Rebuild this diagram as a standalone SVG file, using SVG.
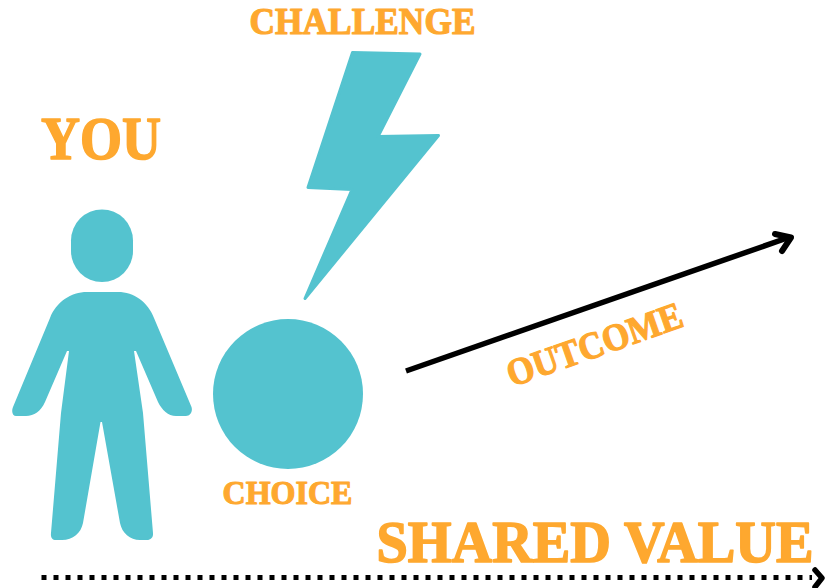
<svg xmlns="http://www.w3.org/2000/svg" width="825" height="588" viewBox="0 0 825 588">
<style>
.teal{fill:#54c3cf}
.label{font-family:"Liberation Serif",serif;font-weight:700;fill:#fea82f;stroke:#fea82f;stroke-linejoin:round}
.line{fill:none;stroke:#000;stroke-linecap:round;stroke-linejoin:round}
</style>
<rect width="825" height="588" fill="#fff"/>
<g id="you">
<rect class="teal" x="71" y="209.5" width="62" height="72.5" rx="31" ry="31"/>
<path class="teal" d="M87 292H118C134 292 148 302 154 318L191.500 407C193 412 190 416 186 416H176C168 416 162 410 158 402L136 351H134L143 413L153 533C153.500 537 151 540 147 540H140C130 540 122 533 120 523L102 422H100.500L83 523C81 533 73 540 62 540H56C52 540 50.500 537 51 533L61 413L69 351H67L45 402C41 411 34 416 26 416H16C13 416 11 412 13 407L50 318C56 302 71 292 87 292Z"/>
<text class="label" x="41" y="158.500" font-size="62" stroke-width="1.600" textLength="120" lengthAdjust="spacingAndGlyphs">YOU</text>
</g>
<g id="challenge">
<path class="teal" stroke="#54c3cf" stroke-width="3" stroke-linejoin="round" d="M352.500 52.500L420 54L378 136.500L438.500 135.500L305 298.500L352 189.500L308 187.500Z"/>
<text class="label" x="249.500" y="33.500" font-size="38" stroke-width="1.200" textLength="226" lengthAdjust="spacingAndGlyphs">CHALLENGE</text>
</g>
<g id="choice">
<circle class="teal" cx="288" cy="394" r="75"/>
<text class="label" x="222.500" y="504" font-size="33" stroke-width="1.100" textLength="130" lengthAdjust="spacingAndGlyphs">CHOICE</text>
</g>
<g id="connectors">
<path class="line" stroke-width="5.500" d="M406 371L790 237" style="stroke-linecap:butt"/>
<path class="line" stroke-width="6" d="M775 234L791 237.500L782 251"/>
<path class="line" stroke-width="5" d="M41.500 577.500H812" stroke-dasharray="5 7" style="stroke-linecap:butt"/>
<path class="line" stroke-width="5.500" d="M815 570L822 578L815 587"/>
</g>
<g id="outcome">
<text class="label" transform="translate(512 387) rotate(-19.400)" x="0" y="0" font-size="38" stroke-width="1.200" textLength="184" lengthAdjust="spacingAndGlyphs">OUTCOME</text>
</g>
<g id="shared-value">
<text class="label" transform="translate(376.500 562) scale(1 1.110)" x="0" y="0" font-size="53" stroke-width="1.500" textLength="437" lengthAdjust="spacingAndGlyphs">SHARED VALUE</text>
</g>
</svg>
